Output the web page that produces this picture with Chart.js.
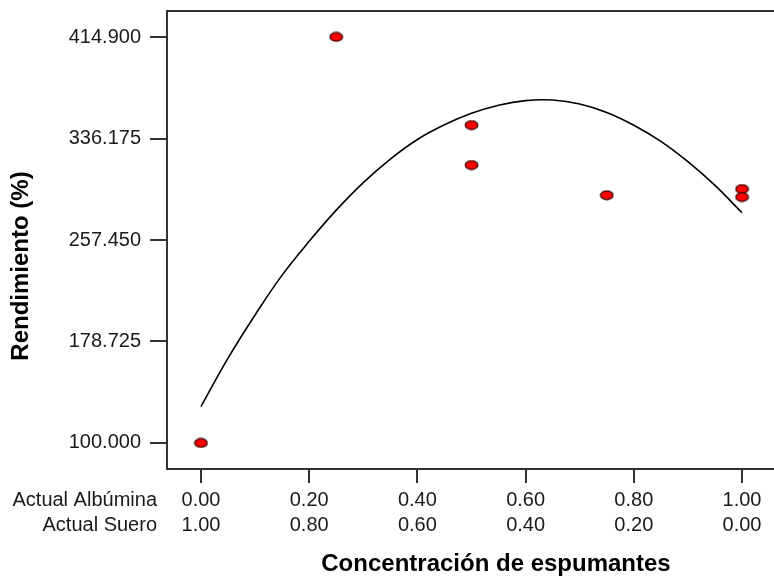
<!DOCTYPE html>
<html>
<head>
<meta charset="utf-8">
<title>Rendimiento vs concentración de espumantes</title>
<script src="https://cdn.jsdelivr.net/npm/chart.js@4.4.1/dist/chart.umd.min.js"></script>
<style>
  html, body { margin: 0; padding: 0; background: #fff; overflow: hidden; }
  #wrap { width: 774px; height: 577px; }
</style>
</head>
<body>
<div id="wrap"><canvas id="chart" width="774" height="577"></canvas></div>
<script>
// measured runs: albumin fraction vs yield
const albumina = [0, 0.25, 0.5, 0.5, 0.75, 1, 1];
const rendimiento = [100, 415, 346.6, 315.6, 292.2, 297.0, 290.8];

// fitted model curve
const curvaX = [0, 0.05, 0.1, 0.15, 0.2, 0.25, 0.3, 0.35, 0.4, 0.45, 0.5,
  0.55, 0.6, 0.65, 0.7, 0.75, 0.8, 0.85, 0.9, 0.95, 1];
const curvaY = [128.2, 165.8, 199.3, 230.2, 256.4, 280.6, 302.0, 320.2, 335.4, 346.8, 355.7,
  362.0, 365.6, 366.0, 363.0, 356.4, 346.5, 334.0, 318.2, 299.8, 278.6];

// axis ticks
const yTicks = [100.000, 178.725, 257.450, 336.175, 414.900];
const xTicks = [0, 0.2, 0.4, 0.6, 0.8, 1.0];
const albuminaLabels = ["0.00", "0.20", "0.40", "0.60", "0.80", "1.00"];
const sueroLabels = ["1.00", "0.80", "0.60", "0.40", "0.20", "0.00"];

const FONT = "Arial, 'Liberation Sans', sans-serif";
const AXIS = "#333333";
const TEXT = "#1a1a1a";

// red oval marker
function makeMarker() {
  const c = document.createElement("canvas");
  c.width = 15;
  c.height = 11;
  const g = c.getContext("2d");
  g.beginPath();
  g.ellipse(7.5, 5.5, 6.3, 4.3, 0, 0, Math.PI * 2);
  g.fillStyle = "#ff0000";
  g.fill();
  g.lineWidth = 1.2;
  g.strokeStyle = "#3a0000";
  g.stroke();
  return c;
}

// top frame line, row captions and axis titles
const decor = {
  id: "decor",
  afterDraw(chart) {
    const ctx = chart.ctx;
    const a = chart.chartArea;
    ctx.save();
    ctx.strokeStyle = AXIS;
    ctx.lineWidth = 2;
    ctx.beginPath();
    ctx.moveTo(a.left, a.top);
    ctx.lineTo(a.right, a.top);
    ctx.stroke();

    ctx.fillStyle = TEXT;
    ctx.font = "20px " + FONT;
    ctx.textAlign = "right";
    ctx.textBaseline = "middle";
    ctx.fillText("Actual Albúmina", 157, a.bottom + 31);
    ctx.fillText("Actual Suero", 157, a.bottom + 56);

    ctx.fillStyle = "#000";
    ctx.font = "bold 24px " + FONT;
    ctx.textAlign = "center";
    ctx.textBaseline = "alphabetic";
    ctx.fillText("Concentración de espumantes", 496, 571);

    ctx.translate(28, 266);
    ctx.rotate(-Math.PI / 2);
    ctx.fillText("Rendimiento (%)", 0, 0);
    ctx.restore();
  }
};

new Chart(document.getElementById("chart"), {
  type: "scatter",
  data: {
    datasets: [
      {
        label: "Rendimiento",
        data: albumina.map((x, i) => ({ x: x, y: rendimiento[i] })),
        pointStyle: makeMarker(),
        pointRadius: 6,
        order: 1
      },
      {
        type: "line",
        label: "Modelo",
        data: curvaX.map((x, i) => ({ x: x, y: curvaY[i] })),
        borderColor: "#000",
        borderWidth: 1.6,
        pointRadius: 0,
        fill: false,
        tension: 0.4,
        order: 2
      }
    ]
  },
  options: {
    responsive: false,
    animation: false,
    layout: { padding: { top: 11, right: 0, bottom: 0, left: 0 }, autoPadding: false },
    plugins: {
      legend: { display: false },
      tooltip: { enabled: false }
    },
    scales: {
      x: {
        type: "linear",
        position: "bottom",
        min: -0.0628,
        max: 1.0591,
        afterBuildTicks: s => { s.ticks = xTicks.map(v => ({ value: v })); },
        afterFit: s => { s.height = 108; s.paddingLeft = 0; s.paddingRight = 0; },
        grid: { drawOnChartArea: false, drawTicks: true, tickLength: 14, color: AXIS, lineWidth: 2 },
        border: { display: true, color: AXIS, width: 2 },
        ticks: {
          autoSkip: false,
          maxRotation: 0,
          padding: 4.5,
          color: TEXT,
          font: { family: FONT, size: 20, lineHeight: 1.25 },
          callback: (v, i) => [albuminaLabels[i], sueroLabels[i]]
        }
      },
      y: {
        type: "linear",
        position: "left",
        min: 79.8,
        max: 435.1,
        afterBuildTicks: s => { s.ticks = yTicks.map(v => ({ value: v })); },
        afterFit: s => { s.width = 167; s.paddingTop = 0; s.paddingBottom = 0; },
        grid: { drawOnChartArea: false, drawTicks: true, tickLength: 17, color: AXIS, lineWidth: 2 },
        border: { display: true, color: AXIS, width: 2 },
        ticks: {
          padding: 9,
          color: TEXT,
          font: { family: FONT, size: 20 },
          callback: (v, i) => yTicks[i].toFixed(3)
        }
      }
    }
  },
  plugins: [decor]
});
</script>
</body>
</html>
